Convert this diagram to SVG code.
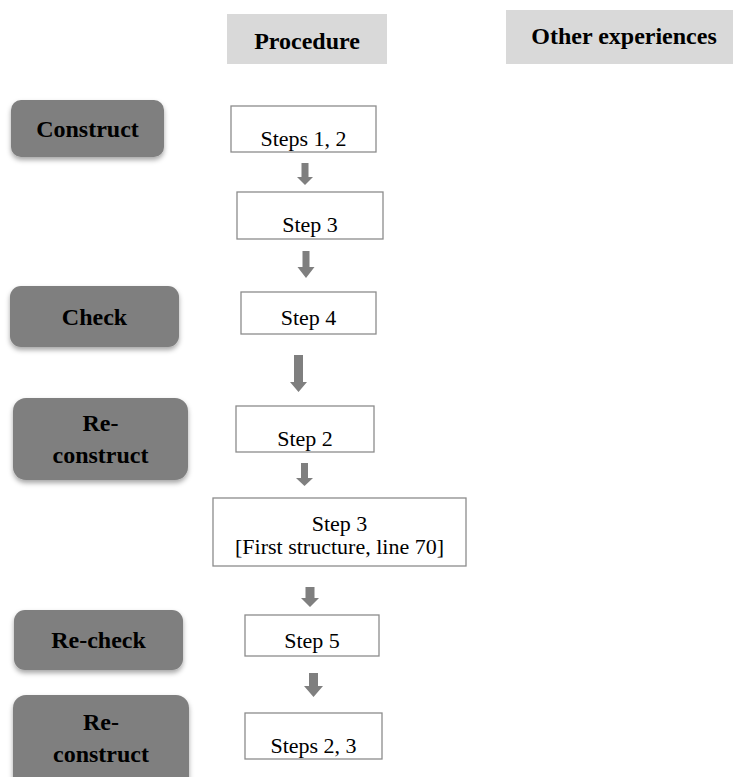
<svg xmlns="http://www.w3.org/2000/svg" width="733" height="777" viewBox="0 0 733 777">
<defs>
<style>
.hdr{fill:#d9d9d9}
.hdrt{font-family:"Liberation Serif","Times New Roman",serif;font-weight:bold;font-size:24px;fill:#000;text-anchor:middle}
.phase{fill:#7f7f7f;filter:url(#sh)}
.pht{font-family:"Liberation Serif","Times New Roman",serif;font-weight:bold;font-size:24px;fill:#000;text-anchor:middle}
.step{fill:#fff;stroke:#8c8c8c;stroke-width:1.3}
.st{font-family:"Liberation Serif","Times New Roman",serif;font-size:22px;fill:#000;text-anchor:middle}
.arr{fill:#7f7f7f}
</style>
<filter id="sh" x="-10%" y="-20%" width="120%" height="150%">
<feDropShadow dx="0" dy="3" stdDeviation="2.5" flood-color="#000" flood-opacity="0.35"/>
</filter>
</defs>
<rect width="733" height="777" fill="#fff"/>

<g id="hdr-procedure"><rect class="hdr" x="227" y="14" width="160" height="50"/><text class="hdrt" x="307" y="49">Procedure</text></g>
<g id="hdr-other"><rect class="hdr" x="506" y="10" width="227" height="54"/><text class="hdrt" x="624" y="44">Other experiences</text></g>

<g id="ph-construct"><rect class="phase" x="11" y="100" width="153" height="57" rx="10"/><text class="pht" x="87.5" y="137">Construct</text></g>
<g id="ph-check"><rect class="phase" x="10" y="286" width="169" height="61" rx="11"/><text class="pht" x="94.5" y="325">Check</text></g>
<g id="ph-reconstruct1"><rect class="phase" x="13" y="398" width="175" height="82" rx="13"/><text class="pht" x="100.5" y="431">Re-</text><text class="pht" x="100.5" y="463">construct</text></g>
<g id="ph-recheck"><rect class="phase" x="14" y="610" width="169" height="60" rx="11"/><text class="pht" x="98.5" y="648">Re-check</text></g>
<g id="ph-reconstruct2"><rect class="phase" x="13" y="695" width="176" height="95" rx="13"/><text class="pht" x="101" y="730">Re-</text><text class="pht" x="101" y="762">construct</text></g>

<g id="s-steps12"><rect class="step" x="231" y="106" width="145" height="46"/><text class="st" x="303.5" y="146">Steps 1, 2</text></g>
<g id="s-step3a"><rect class="step" x="237" y="192" width="146" height="47"/><text class="st" x="310" y="232">Step 3</text></g>
<g id="s-step4"><rect class="step" x="241" y="292" width="135" height="42"/><text class="st" x="308.5" y="325">Step 4</text></g>
<g id="s-step2"><rect class="step" x="236" y="406" width="138" height="46"/><text class="st" x="305" y="446">Step 2</text></g>
<g id="s-step3b"><rect class="step" x="213" y="498" width="253" height="68"/><text class="st" x="339.5" y="531">Step 3</text><text class="st" x="339.5" y="554">[First structure, line 70]</text></g>
<g id="s-step5"><rect class="step" x="245" y="615" width="134" height="41"/><text class="st" x="312" y="648">Step 5</text></g>
<g id="s-steps23"><rect class="step" x="245" y="713" width="137" height="46"/><text class="st" x="313.5" y="753">Steps 2, 3</text></g>

<g id="connectors">
<path class="arr" d="M301.5,163 h7 v14 h4.5 l-8,8 l-8,-8 h4.5z"/>
<path class="arr" d="M302.5,251 h7 v16 h5 l-8.5,11 l-8.5,-11 h5z"/>
<path class="arr" d="M294,355 h9 v27 h4 l-8.5,10 l-8.5,-10 h4z"/>
<path class="arr" d="M301,463 h7 v15 h5 l-8.5,8 l-8.5,-8 h5z"/>
<path class="arr" d="M305.5,587 h9 v11 h4.5 l-9,9 l-9,-9 h4.5z"/>
<path class="arr" d="M309,673 h9 v13 h5 l-9.5,11 l-9.5,-11 h5z"/>
</g>
</svg>
